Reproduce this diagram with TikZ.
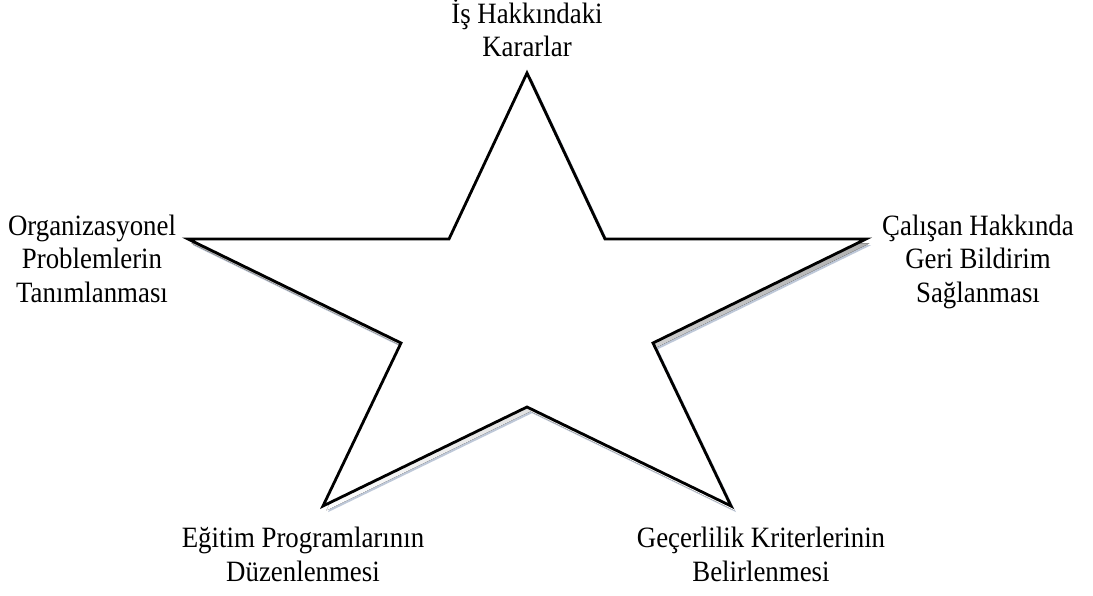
\documentclass[tikz,border=0pt]{standalone}
\usepackage{fontspec}
\setmainfont[FakeStretch=0.91]{Liberation Serif}
% closed star outline through the named corners, moved by (#1,#2) in pt
\newcommand\starpathat[2]{%
  ([shift={(#1pt,-#2pt)}]t)--([shift={(#1pt,-#2pt)}]ri)--([shift={(#1pt,-#2pt)}]ro)--%
  ([shift={(#1pt,-#2pt)}]lri)--([shift={(#1pt,-#2pt)}]br)--([shift={(#1pt,-#2pt)}]bi)--%
  ([shift={(#1pt,-#2pt)}]bl)--([shift={(#1pt,-#2pt)}]lli)--([shift={(#1pt,-#2pt)}]lo)--%
  ([shift={(#1pt,-#2pt)}]li)--cycle}
\begin{document}
\begin{tikzpicture}[x=1pt,y=-1pt,
  lbl/.style={align=center,font=\fontsize{29.5}{33.5}\selectfont,inner sep=0pt,anchor=base},
  starline/.style={draw=black,line width=2.8pt,line join=miter,fill=white},
]
\definecolor{shade}{HTML}{8393AE}
\definecolor{shadelight}{HTML}{BEC8D8}
\useasboundingbox (0,0) rectangle (1093,596);
% star corners
\coordinate (t)  at (527,73);
\coordinate (ri) at (605,239);
\coordinate (ro) at (866,239);
\coordinate (lri) at (653,343);
\coordinate (br) at (731,506);
\coordinate (bi) at (527,407);
\coordinate (bl) at (323,506);
\coordinate (lli) at (401,343);
\coordinate (lo) at (188,239);
\coordinate (li) at (449,239);
% soft drop shadow
\fill[shadelight] \starpathat{5}{6.2};
\fill[shade] \starpathat{3.4}{4.4};
% star
\path[starline] \starpathat{0}{0};
% labels (anchored at the baseline of their last line)
\node[lbl] (top) at (527,57) {İş Hakkındaki\\Kararlar};
\node[lbl] (left) at (92,302) {Organizasyonel\\Problemlerin\\Tanımlanması};
\node[lbl] (right) at (978,302) {Çalışan Hakkında\\Geri Bildirim\\Sağlanması};
\node[lbl] (botl) at (303,581) {Eğitim Programlarının\\Düzenlenmesi};
\node[lbl] (botr) at (761,581) {Geçerlilik Kriterlerinin\\Belirlenmesi};
\end{tikzpicture}
\end{document}
